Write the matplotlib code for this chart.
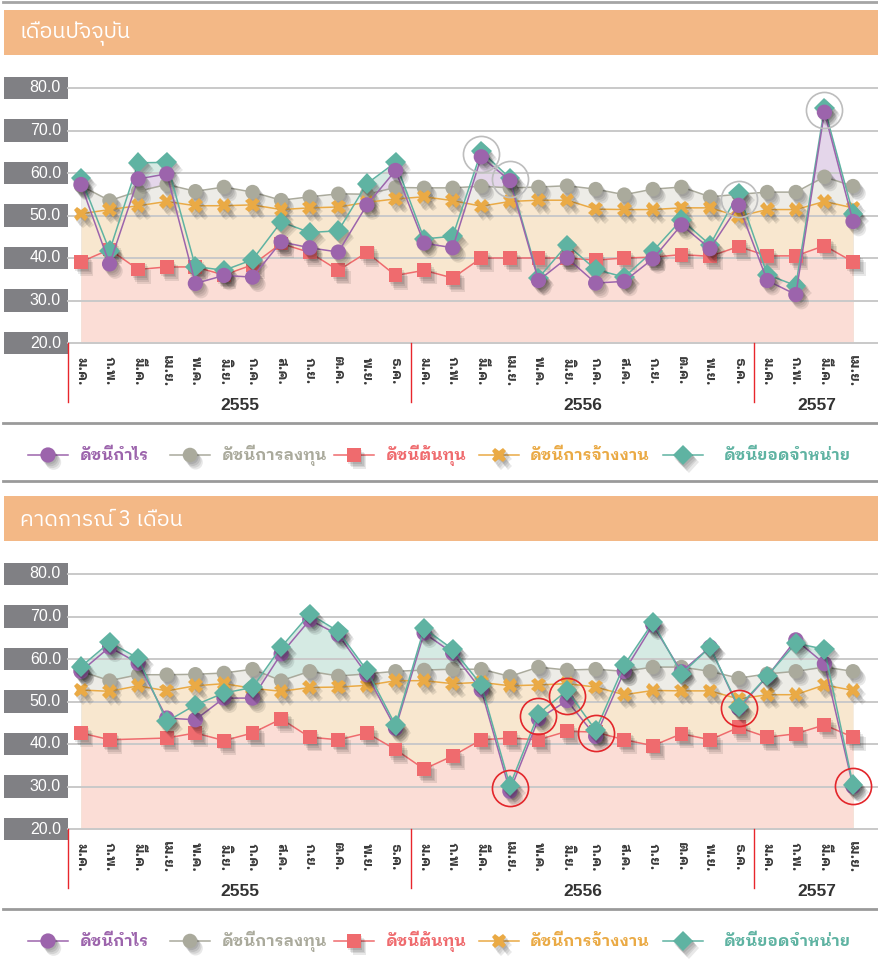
import numpy as np
import matplotlib
matplotlib.use("Agg")
import matplotlib.pyplot as plt
from matplotlib import font_manager, transforms
import matplotlib.patheffects as pe


def pick_font(names):
    have = {f.name for f in font_manager.fontManager.ttflist}
    for n in names:
        if n in have:
            return n
    return "DejaVu Sans"


TH = pick_font(["IBM Plex Sans Thai", "Noto Sans Thai", "Kanit", "Sarabun"])
TH_LOOP = pick_font(["IBM Plex Sans Thai Looped", "Noto Sans Thai Looped", "Sarabun", TH])
NUM = pick_font(["Liberation Sans", "Roboto"])

months = ["ม.ค.", "ก.พ.", "มี.ค.", "เม.ย.", "พ.ค.", "มิ.ย.",
          "ก.ค.", "ส.ค.", "ก.ย.", "ต.ค.", "พ.ย.", "ธ.ค."]
month_labels = months * 2 + months[:4]
years = ["2555", "2556", "2557"]
year_bounds = [-0.45, 11.55, 23.55, 27.9]
yticks = [20, 30, 40, 50, 60, 70, 80]

names = ["ดัชนีกำไร", "ดัชนีการลงทุน", "ดัชนีต้นทุน", "ดัชนีการจ้างงาน", "ดัชนียอดจำหน่าย"]

# เดือนปัจจุบัน
cur_profit = [57.3, 38.6, 58.6, 59.8, 34.0, 35.9, 35.5, 43.8, 42.4, 41.4, 52.5, 60.6, 43.5, 42.4,
              63.8, 58.2, 34.7, 40.0, 34.1, 34.5, 39.8, 47.8, 42.2, 52.4, 34.7, 31.4, 74.3, 48.6]
cur_invest = [57.0, 53.5, 55.7, 57.3, 55.7, 56.7, 55.5, 53.6, 54.4, 55.1, 55.0, 56.6, 56.5, 56.5,
              56.9, 56.5, 56.7, 57.0, 56.2, 54.9, 56.2, 56.7, 54.4, 55.0, 55.5, 55.5, 59.1, 56.9]
cur_cost = [39.1, 42.0, 37.3, 37.9, 37.9, 36.0, 38.4, 43.4, 41.3, 37.1, 41.3, 35.9, 37.1, 35.3,
            40.0, 40.0, 40.0, 40.0, 39.5, 40.0, 40.2, 40.8, 40.4, 42.7, 40.5, 40.5, 42.9, 39.1]
cur_employ = [50.4, 51.4, 52.3, 53.3, 52.3, 52.3, 52.5, 51.4, 51.8, 52.0, 53.1, 53.9, 54.4, 53.5,
              52.2, 53.3, 53.6, 53.6, 51.5, 51.4, 51.4, 51.8, 51.8, 49.8, 51.4, 51.4, 53.3, 51.8]
cur_sales = [58.8, 41.7, 62.4, 62.5, 38.0, 37.1, 39.6, 48.5, 46.0, 46.4, 57.5, 62.5, 44.5, 45.1,
             65.1, 58.8, 35.3, 43.1, 37.3, 35.5, 41.6, 49.0, 43.1, 55.3, 36.1, 33.5, 75.3, 50.4]
cur_marked = [14, 15, 23, 26]

# คาดการณ์ 3 เดือน
fc_profit = [57.1, 62.8, 59.0, 46.1, 45.7, 50.8, 50.8, 61.2, 69.2, 65.7, 56.3, 43.7, 66.1, 61.4,
             52.7, 28.9, 45.9, 50.2, 41.8, 57.1, 68.0, 57.0, 62.8, 48.4, 55.9, 64.5, 58.9, 30.0]
fc_invest = [57.1, 54.9, 56.3, 56.3, 56.4, 56.7, 57.6, 54.9, 57.1, 56.0, 56.5, 57.1, 57.4, 57.6,
             57.6, 55.9, 58.1, 57.4, 57.6, 57.1, 58.1, 58.1, 57.1, 55.5, 56.5, 57.1, 58.1, 57.1]
fc_cost = [42.6, 41.0, np.nan, 41.4, 42.6, 40.8, 42.6, 45.9, 41.6, 41.0, 42.6, 38.7, 34.1, 37.2,
           41.0, 41.4, 41.0, 43.0, 42.8, 41.0, 39.6, 42.4, 41.0, 43.9, 41.6, 42.4, 44.5, 41.6]
fc_employ = [52.7, 52.4, 53.7, 52.5, 53.7, 54.2, 53.1, 52.4, 53.3, 53.4, 53.8, 54.9, 54.9, 54.2,
             54.5, 53.7, 53.9, 54.2, 53.4, 51.6, 52.6, 52.5, 52.5, 50.6, 51.6, 51.6, 53.9, 52.6]
fc_sales = [58.2, 63.9, 60.2, 45.3, 49.2, 52.0, 53.3, 62.8, 70.6, 66.5, 57.3, 44.4, 67.2, 62.3,
            53.9, 30.2, 47.1, 52.6, 43.2, 58.6, 68.6, 56.5, 62.8, 48.7, 56.0, 63.7, 62.3, 30.4]
fc_marked = [15, 16, 17, 18, 23, 27]

colors = ["#9C64AC", "#AAAA9C", "#EF6B6E", "#EAAA45", "#5FB3A2"]
markers = ["o", "o", "s", "X", "D"]
msizes = [11, 10.5, 10, 10.5, 10.5]
fill_top = "#E4D6EA"
fill_sales = "#D5EAE3"
fill_invest = "#EDECE7"
fill_employ = "#F8E7CF"
fill_cost = "#FBDDD6"

W, H = 879, 965
fig = plt.figure(figsize=(W / 100, H / 100), dpi=100)
ov = fig.add_axes([0, 0, 1, 1], zorder=0)
ov.set_xlim(0, W)
ov.set_ylim(H, 0)
ov.axis("off")

# soft drop shadow, a few faint offset copies
shadow = [pe.SimplePatchShadow(offset=(o, -1.3 * o), shadow_rgbFace="#000000", alpha=0.09)
          for o in (1.0, 2.0, 3.0, 4.0)] + [pe.Normal()]

ov.plot([3, W], [2, 2], color="#A5A5A5", lw=2)


def panel(dy, title, series, marked, mark_color, order):
    # header
    ov.add_patch(plt.Rectangle((4, 10 + dy), W - 4, 45, color="#F3B886", lw=0))
    ov.text(20, 34 + dy, title, color="white", fontsize=15.5, va="center",
            family=[TH, "DejaVu Sans"])

    y80, y20 = 88 + dy, 343 + dy
    ax = fig.add_axes([68 / W, 1 - y20 / H, 1 - 68 / W, (y20 - y80) / H], zorder=1)
    ax.set_xlim(-13 / 28.6, 27 + 26 / 28.6)
    ax.set_ylim(20, 80)
    ax.axis("off")
    x = np.arange(len(month_labels))
    ytr = transforms.blended_transform_factory(fig.transFigure, ax.transData)
    xtr = transforms.blended_transform_factory(ax.transData, ov.transData)

    for v in yticks:
        ax.axhline(v, color="#C9C9C9", lw=1.4, zorder=2, clip_on=False)
        ax.add_patch(plt.Rectangle((4 / W, v - 2.6), 64 / W, 5.2, transform=ytr,
                                   color="#808084", lw=0, clip_on=False))
        ax.text(61 / W, v, "%.1f" % v, transform=ytr, ha="right", va="center",
                color="white", fontsize=11.5, family=NUM)

    profit, invest, cost, employ, sales = [np.array(s, dtype=float) for s in series]
    ok = ~np.isnan(cost)
    # stacked background areas
    fills = [(sales, fill_sales), (profit, fill_top)]
    if order[-1] == 4:
        fills = fills[::-1]
    for s, c in fills:
        ax.fill_between(x, 20, s, color=c, lw=0, zorder=1)
    ax.fill_between(x, 20, invest, color=fill_invest, lw=0, zorder=1)
    ax.fill_between(x, 20, employ, color=fill_employ, lw=0, zorder=1)
    ax.fill_between(x[ok], 20, cost[ok], color=fill_cost, lw=0, zorder=1)

    arrs = [profit, invest, cost, employ, sales]
    for rank, k in enumerate(order):
        s = arrs[k]
        m = ~np.isnan(s)
        z = 3 + rank * 0.2
        ax.plot(x[m], s[m], color=colors[k], lw=1.1, zorder=z)
        ax.plot(x[m], s[m], ls="none", marker=markers[k], ms=msizes[k], mfc=colors[k],
                mew=0, zorder=z + 0.1, path_effects=shadow, clip_on=False)

    # circled months, centred between profit and sales points
    hi = np.array(marked)
    ax.plot(x[hi], (sales[hi] + profit[hi]) / 2, ls="none", marker="o", ms=26, mfc="none",
            mec=mark_color, mew=1.2, zorder=5, clip_on=False)

    # month axis
    for i, lab in enumerate(month_labels):
        ax.text(i, 371 + dy, lab, transform=xtr, rotation=270, ha="center", va="center",
                fontsize=10, fontweight="bold", color="#3A3A3A", family=[TH_LOOP, "DejaVu Sans"])
    for b in year_bounds[:-1]:
        ax.plot([b, b], [343 + dy, 402 + dy], transform=xtr, color="#E8262C", lw=1,
                clip_on=False)
    for j, yr in enumerate(years):
        ax.text((year_bounds[j] + year_bounds[j + 1]) / 2, 405 + dy, yr, transform=xtr,
                ha="center", va="center", fontsize=12.5, fontweight="bold", color="#333333",
                family=NUM)

    ov.plot([3, W], [423 + dy, 423 + dy], color="#9A9A9A", lw=2)
    ov.plot([3, W], [481 + dy, 481 + dy], color="#9A9A9A", lw=2)

    # legend
    mx = [48, 190, 354, 499, 683]
    tx = [80, 222, 386, 530, 724]
    ly = 455 + dy
    for k in range(5):
        ov.plot([mx[k] - 20, mx[k] + 20], [ly, ly], color=colors[k], lw=1.1)
        ov.plot([mx[k]], [ly], ls="none", marker=markers[k], ms=msizes[k], mfc=colors[k],
                mew=0, path_effects=shadow)
        ov.text(tx[k], ly, names[k], color=colors[k], fontsize=11.5, fontweight="bold",
                va="center", family=[TH_LOOP, "DejaVu Sans"])


panel(0, "เดือนปัจจุบัน",
      [cur_profit, cur_invest, cur_cost, cur_employ, cur_sales],
      cur_marked, "#BDBDBD", [1, 3, 2, 4, 0])
panel(486, "คาดการณ์ 3 เดือน",
      [fc_profit, fc_invest, fc_cost, fc_employ, fc_sales],
      fc_marked, "#E3262B", [1, 3, 2, 0, 4])

fig.savefig("out.png", dpi=100)
